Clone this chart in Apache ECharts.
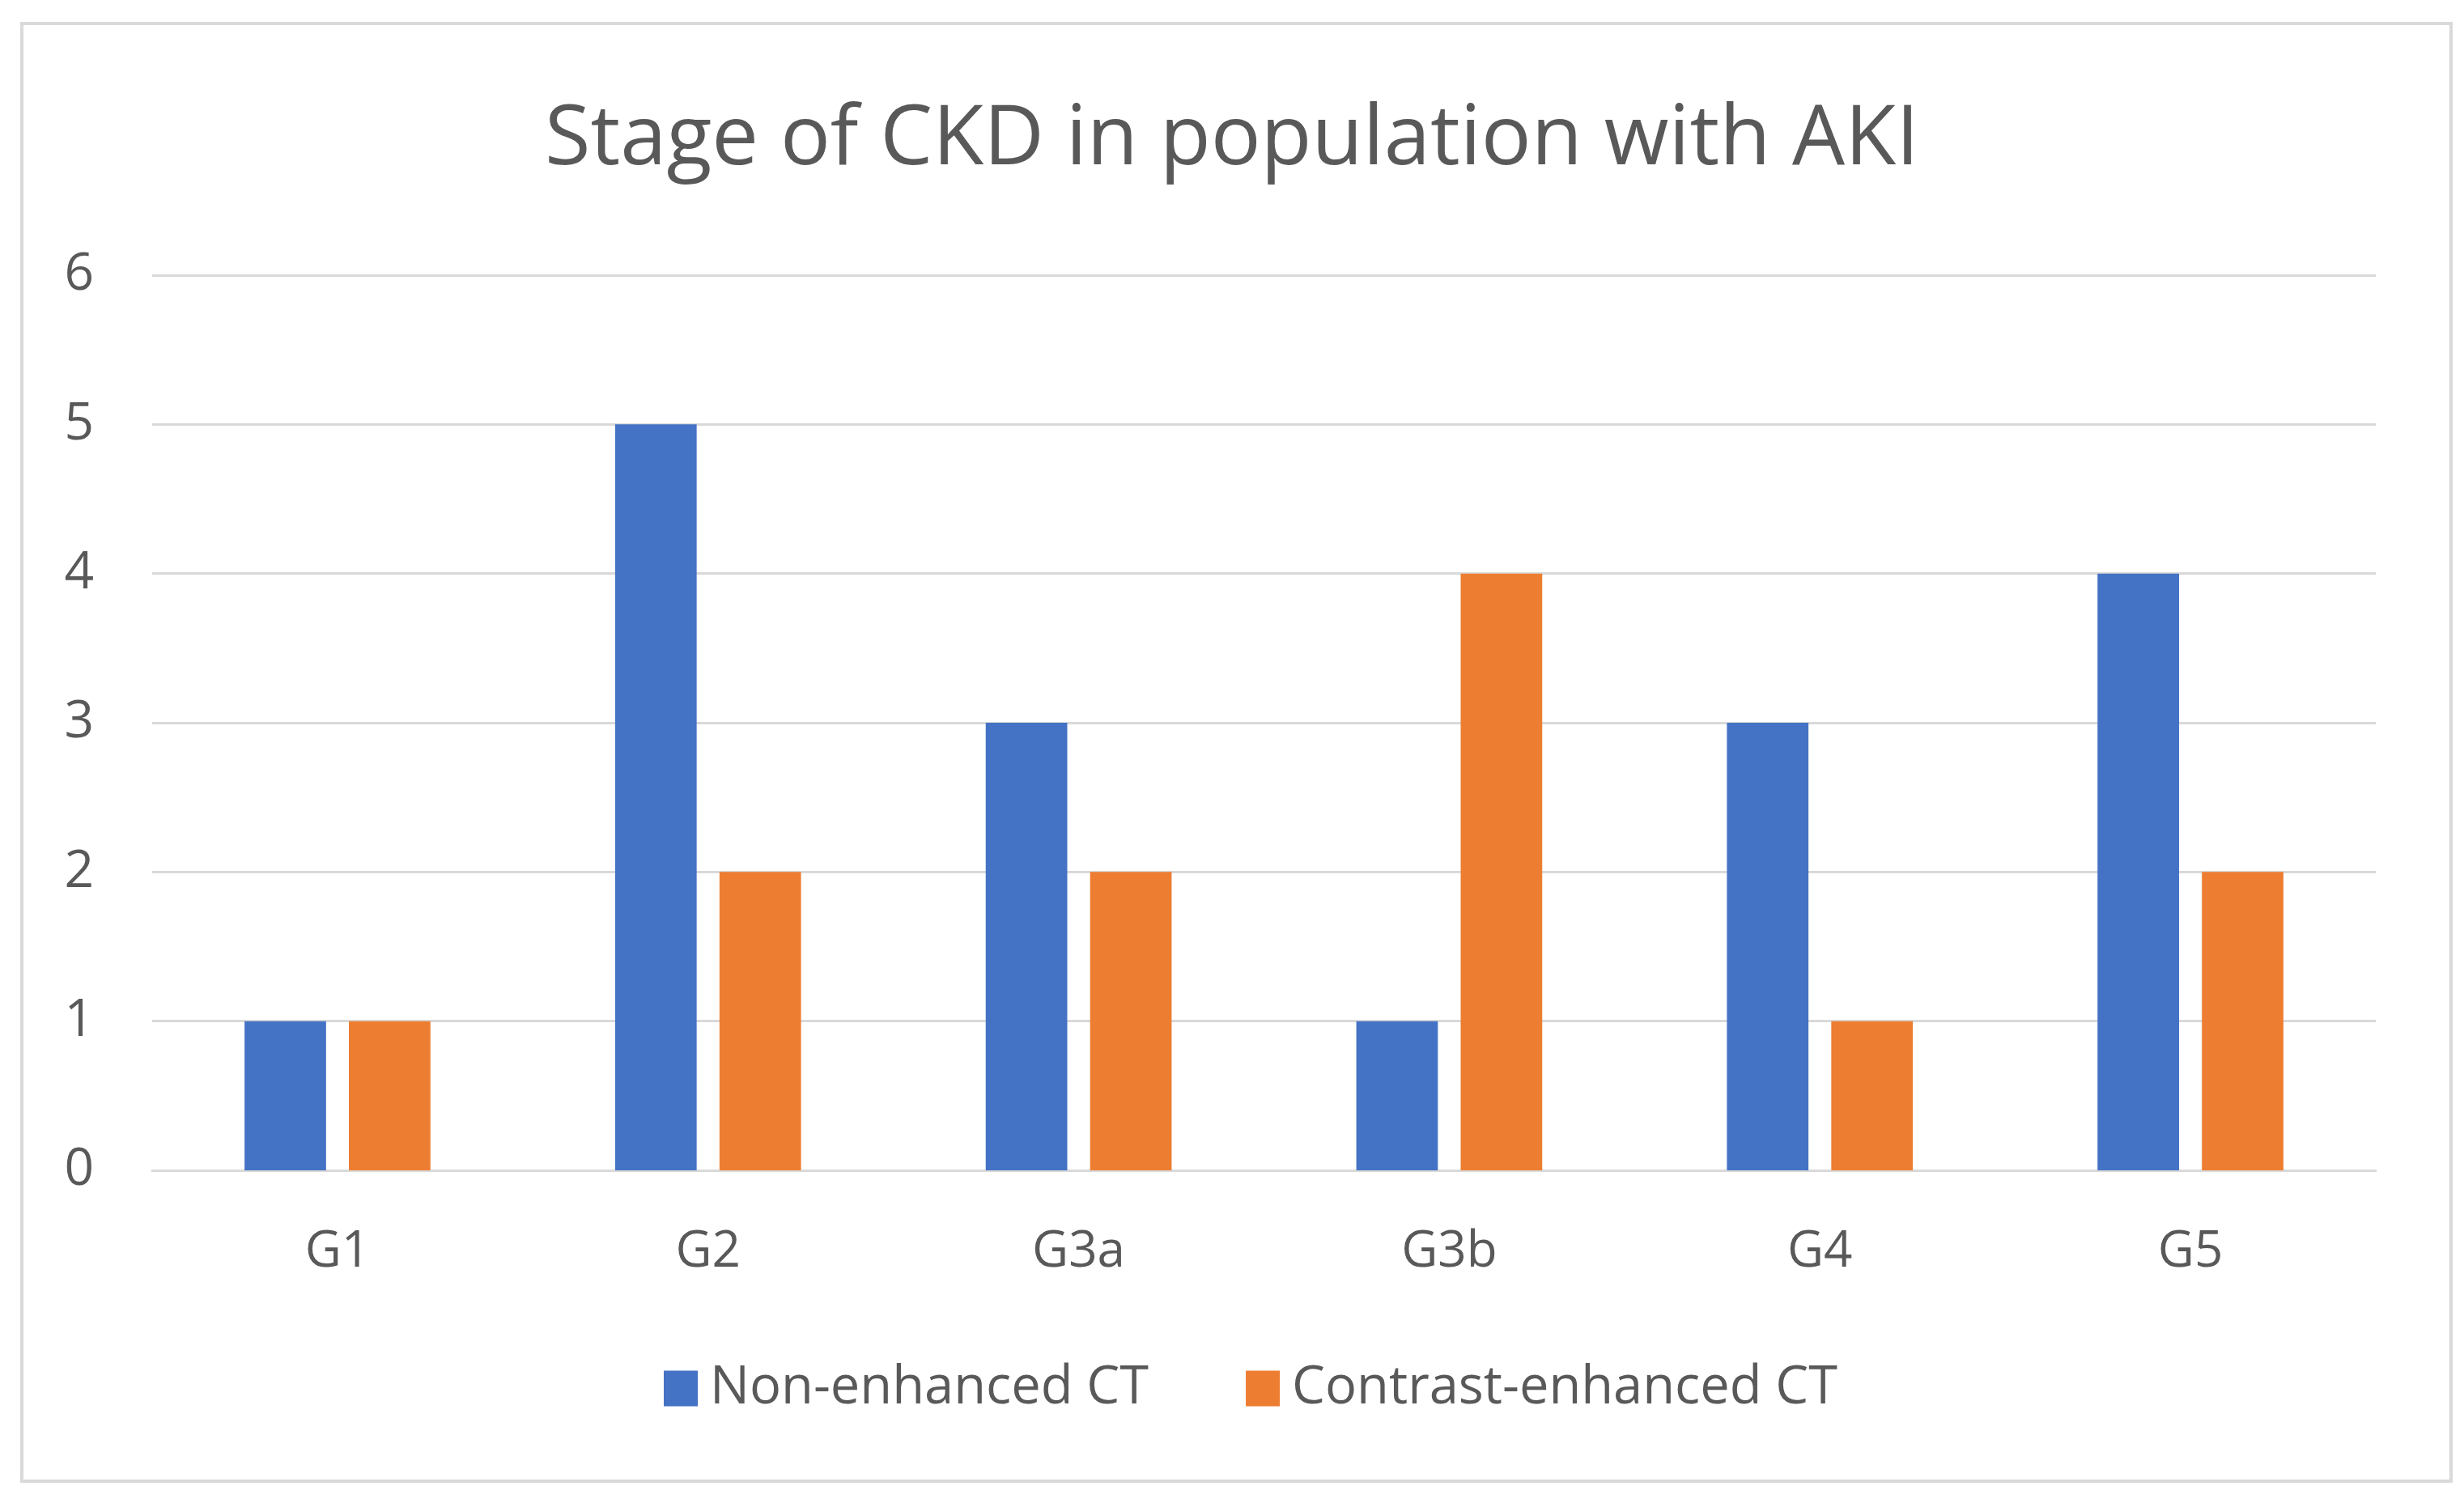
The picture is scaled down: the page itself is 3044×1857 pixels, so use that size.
<!DOCTYPE html>
<html><head><meta charset="utf-8">
<script src="https://cdn.jsdelivr.net/npm/echarts@6/dist/echarts.min.js"></script>
<style>html,body{margin:0;padding:0;background:#fff}#c{width:3044px;height:1857px}</style>
</head><body><div id="c"></div>
<script>
const categories = ['G1','G2','G3a','G3b','G4','G5'];
const nonEnhanced = [1,5,3,1,3,4];
const contrastEnhanced = [1,2,2,4,1,2];
const yTicks = [0,1,2,3,4,5,6];
const FONT = '"Open Sans", sans-serif';
const chart = echarts.init(document.getElementById('c'));
chart.setOption({
  backgroundColor:'#fff',
  animation:false,
  title:{text:'Stage of CKD in population with AKI',left:'center',top:117,
    textStyle:{fontFamily:FONT,fontSize:103,fontWeight:'normal',color:'#595959'}},
  legend:{bottom:104,left:815,itemWidth:42,itemHeight:44,itemGap:120,
    icon:'rect',textStyle:{fontFamily:FONT,fontSize:65,color:'#595959',padding:[0,0,0,10]},
    data:['Non-enhanced CT','Contrast-enhanced CT']},
  grid:{left:188,right:109,top:340,bottom:411,containLabel:false},
  xAxis:{type:'category',data:categories,
    axisLine:{lineStyle:{color:'#D9D9D9',width:3}},axisTick:{show:false},
    axisLabel:{fontFamily:FONT,fontSize:62,color:'#595959',margin:70}},
  yAxis:{type:'value',min:0,max:6,interval:1,
    axisLine:{show:false},axisTick:{show:false},
    splitLine:{lineStyle:{color:'#D9D9D9',width:3}},
    axisLabel:{fontFamily:FONT,fontSize:64,color:'#595959',margin:72,
      formatter:v=>yTicks.includes(v)?String(v):''}},
  series:[
    {name:'Non-enhanced CT',type:'bar',data:nonEnhanced,barWidth:'22%',barGap:'28%',itemStyle:{color:'#4472C4'}},
    {name:'Contrast-enhanced CT',type:'bar',data:contrastEnhanced,barWidth:'22%',barGap:'28%',itemStyle:{color:'#ED7D31'}}
  ],
  graphic:[{type:'rect',shape:{x:27,y:29,width:3001,height:1801},
    style:{fill:'none',stroke:'#D9D9D9',lineWidth:4},silent:true}]
});
</script></body></html>
